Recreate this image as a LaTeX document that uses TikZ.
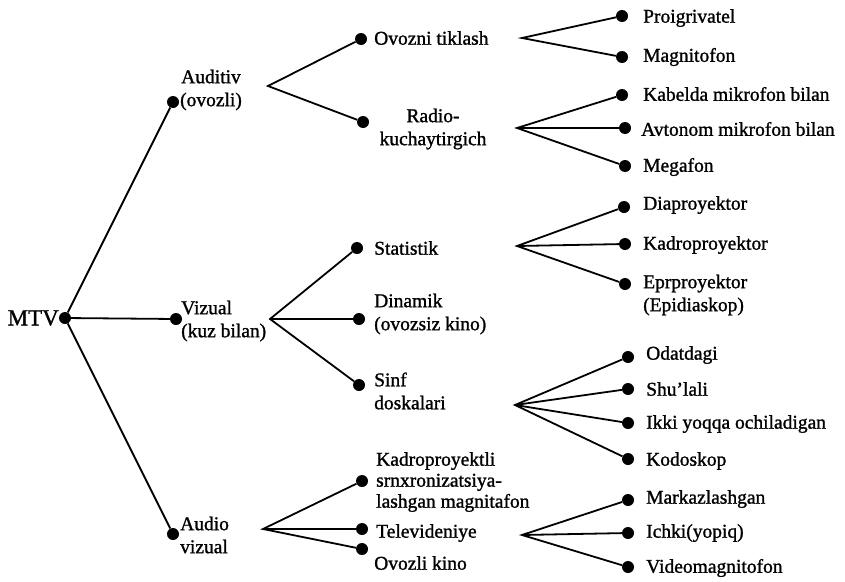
\documentclass[tikz,border=0pt]{standalone}
\usepackage{fontspec}
\setmainfont{Liberation Serif}[FakeBold=1.2]
\begin{document}
\begin{tikzpicture}[x=1pt,y=-1pt,
  dot/.style={circle,fill=black,inner sep=0pt,minimum size=12pt},
  lbl/.style={font=\fontsize{19.5}{23}\selectfont,inner sep=0pt,align=left,anchor=west},
  conn/.style={line width=1.8pt}]
\path[use as bounding box,fill=white] (0,0) rectangle (845,581);

% root
\node[dot] (mtv) at (65,318) {};
\node[lbl,font=\fontsize{23}{24}\selectfont,anchor=east] (mtvt) at (59,318) {MTV};

% level 1
\node[dot] (aud) at (173,102) {};
\node[lbl,align=center,anchor=center] (audt) at (211,90) {Auditiv\\(ovozli)};
\node[dot] (viz) at (176,319) {};
\node[lbl] (vizt) at (181,321) {Vizual\\(kuz bilan)};
\node[dot] (av) at (173,534) {};
\node[lbl] (avt) at (180,535) {Audio\\vizual};
\draw[conn] (mtv) -- (aud);
\draw[conn] (mtv) -- (viz);
\draw[conn] (mtv) -- (av);

% Auditiv branch
\coordinate (fa) at (268,86);
\node[dot] (ovz) at (361,39) {};
\node[lbl] (ovzt) at (374,38) {Ovozni tiklash};
\node[dot] (rad) at (363,122) {};
\node[lbl,align=center,anchor=center] (radt) at (433,129) {Radio-\\kuchaytirgich};
\draw[conn] (ovz) -- (fa) -- (rad);

\coordinate (fo) at (522,38);
\node[dot] (pro) at (622,16) {};
\node[lbl] (prot) at (643,18) {Proigrivatel};
\node[dot] (mag) at (622,57) {};
\node[lbl] (magt) at (643,57) {Magnitofon};
\draw[conn] (pro) -- (fo) -- (mag);

\coordinate (fr) at (517,128);
\node[dot] (kab) at (622,95) {};
\node[lbl] (kabt) at (643,94) {Kabelda mikrofon bilan};
\node[dot] (avm) at (625,128) {};
\node[lbl] (avmt) at (641,129) {Avtonom mikrofon bilan};
\node[dot] (meg) at (625,166) {};
\node[lbl] (megt) at (643,167) {Megafon};
\draw[conn] (kab) -- (fr) -- (meg);
\draw[conn] (fr) -- (avm);

% Vizual branch
\coordinate (fv) at (270,319);
\node[dot] (sta) at (357,248) {};
\node[lbl] (stat) at (374,248) {Statistik};
\node[dot] (din) at (359,319) {};
\node[lbl] (dint) at (374,314) {Dinamik\\(ovozsiz kino)};
\node[dot] (sinf) at (359,385) {};
\node[lbl] (sinft) at (374,391) {Sinf\\doskalari};
\draw[conn] (sta) -- (fv) -- (sinf);
\draw[conn] (fv) -- (din);

\coordinate (fs) at (517,246);
\node[dot] (dia) at (624,207) {};
\node[lbl] (diat) at (643,205) {Diaproyektor};
\node[dot] (kad) at (625,244) {};
\node[lbl] (kadt) at (643,245) {Kadroproyektor};
\node[dot] (epr) at (625,284) {};
\node[lbl] (eprt) at (643,295) {Eprproyektor\\(Epidiaskop)};
\draw[conn] (dia) -- (fs) -- (epr);
\draw[conn] (fs) -- (kad);

\coordinate (fd) at (515,405);
\node[dot] (oda) at (628,357) {};
\node[lbl] (odat) at (646,355) {Odatdagi};
\node[dot] (shu) at (628,389) {};
\node[lbl] (shut) at (646,389) {Shu’lali};
\node[dot] (ikk) at (628,423) {};
\node[lbl] (ikkt) at (646,424) {Ikki yoqqa ochiladigan};
\node[dot] (kod) at (628,459) {};
\node[lbl] (kodt) at (646,461) {Kodoskop};
\draw[conn] (oda) -- (fd) -- (kod);
\draw[conn] (fd) -- (shu);
\draw[conn] (fd) -- (ikk);

% Audio vizual branch
\coordinate (fav) at (263,529);
\node[dot] (kpr) at (362,481) {};
\node[lbl,font=\fontsize{19.5}{21}\selectfont] (kprt) at (376,482) {Kadroproyektli\\srnxronizatsiya-\\lashgan magnitafon};
\node[dot] (tel) at (362,529) {};
\node[lbl] (telt) at (376,533) {Televideniye};
\node[dot] (ovk) at (362,549) {};
\node[lbl] (ovkt) at (374,563) {Ovozli kino};
\draw[conn] (kpr) -- (fav) -- (ovk);
\draw[conn] (fav) -- (tel);

\coordinate (ft) at (522,535);
\node[dot] (mar) at (628,500) {};
\node[lbl] (mart) at (646,499) {Markazlashgan};
\node[dot] (ich) at (628,533) {};
\node[lbl] (icht) at (646,533) {Ichki(yopiq)};
\node[dot] (vid) at (628,567) {};
\node[lbl] (vidt) at (646,568) {Videomagnitofon};
\draw[conn] (mar) -- (ft) -- (vid);
\draw[conn] (ft) -- (ich);
\end{tikzpicture}
\end{document}
